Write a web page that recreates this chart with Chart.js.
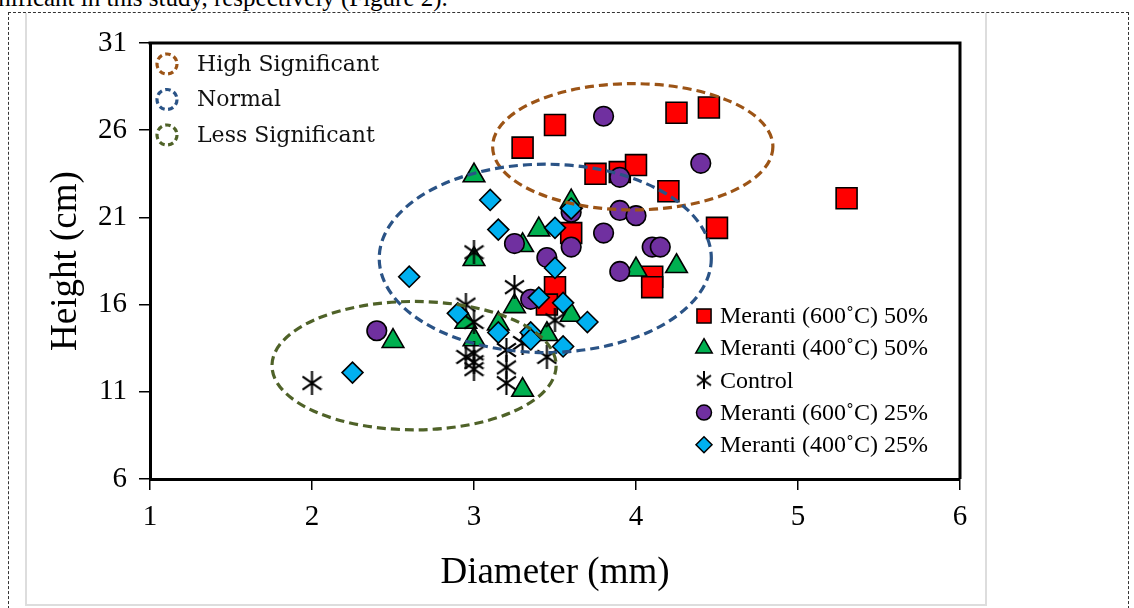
<!DOCTYPE html>
<html>
<head>
<meta charset="utf-8">
<script src="https://cdn.jsdelivr.net/npm/chart.js@4.4.1/dist/chart.umd.min.js"></script>
<style>
html, body { margin: 0; padding: 0; background: #fff; overflow: hidden; }
#page { position: relative; width: 1134px; height: 608px; overflow: hidden; }
.lead { position: absolute; left: -31px; top: -16px; font: 25px "Liberation Serif"; white-space: nowrap; color: #000; }
.dash { position: absolute; left: 8px; top: 12px; width: 1119px; height: 620px; border: 1px dashed #333; }
.frame { position: absolute; left: 25px; top: 13px; width: 958px; height: 591px; border-left: 2px solid #ddd; border-right: 2px solid #ddd; border-bottom: 2px solid #ddd; }
#wrap { position: absolute; left: 0; top: 0; width: 1134px; height: 608px; }
</style>
</head>
<body>
<div id="page">
  <div class="lead">significant in this study, respectively (Figure 2).</div>
  <div class="dash"></div>
  <div class="frame"></div>
  <div id="wrap"><canvas id="chart"></canvas></div>
</div>
<script>
// series names, in legend order
var seriesNames = ['Meranti (600˚C) 50%', 'Meranti (400˚C) 50%', 'Control', 'Meranti (600˚C) 25%', 'Meranti (400˚C) 25%'];

// diameter (mm) / height (cm)
var m600_50_x = [3.3, 3.5, 4.25, 4.45, 3.75, 3.9, 4.0, 4.2, 4.5, 5.3, 3.6, 3.5, 3.45, 4.1, 4.1];
var m600_50_y = [25.0, 26.3, 27.0, 27.3, 23.5, 23.6, 24.0, 22.5, 20.4, 22.1, 20.1, 17.0, 16.0, 17.6, 17.0];

var m400_50_x = [3.0, 3.0, 3.6, 3.4, 3.3, 4.0, 4.25, 2.5, 2.95, 3.0, 3.25, 3.15, 3.45, 3.6, 3.3];
var m400_50_y = [23.4, 18.6, 21.9, 20.3, 19.4, 18.0, 18.2, 13.9, 15.0, 14.0, 15.9, 14.9, 14.3, 15.4, 11.1];

var control_x = [2.0, 3.0, 2.95, 3.0, 2.95, 3.0, 3.0, 3.0, 3.25, 3.2, 3.2, 3.2, 3.3, 3.5, 3.45];
var control_y = [11.5, 19.0, 16.0, 15.0, 13.0, 13.2, 12.7, 12.3, 17.0, 13.4, 12.4, 11.5, 13.8, 15.1, 13.0];

var m600_25_x = [3.8, 4.4, 3.9, 3.9, 4.0, 3.6, 3.6, 3.25, 3.8, 4.1, 4.15, 3.9, 3.45, 3.35, 2.4];
var m600_25_y = [26.8, 24.1, 23.3, 21.4, 21.1, 21.3, 19.3, 19.5, 20.1, 19.3, 19.3, 17.9, 18.7, 16.3, 14.5];

var m400_25_x = [3.1, 3.15, 3.5, 3.6, 3.5, 2.6, 2.9, 3.15, 3.35, 3.35, 3.4, 3.55, 3.7, 3.55, 2.25];
var m400_25_y = [22.0, 20.3, 20.4, 21.5, 18.1, 17.6, 15.5, 14.4, 14.4, 14.0, 16.4, 16.1, 15.0, 13.6, 12.1];

// grouping ellipses, in data units
var zoneNames = ['High Significant', 'Normal', 'Less Significant'];
var zoneCx = [3.98, 3.44, 2.63];
var zoneCy = [25.05, 18.65, 12.5];
var zoneRx = [0.865, 1.025, 0.877];
var zoneRy = [3.62, 5.4, 3.68];
var zoneColors = ['#9c5416', '#2a5386', '#4f6228'];

var xTicks = [1, 2, 3, 4, 5, 6];
var yTicks = [6, 11, 16, 21, 26, 31];

function pairs(xs, ys) {
    var out = [];
    for (var i = 0; i < xs.length; i++) {
        out.push({ x: xs[i], y: ys[i] });
    }
    return out;
}

function makeAsterisk(w, h, lw) {
    var c = document.createElement('canvas');
    c.width = w;
    c.height = h;
    var g = c.getContext('2d');
    g.strokeStyle = '#000';
    g.lineWidth = lw;
    g.lineCap = 'butt';
    g.beginPath();
    g.moveTo(w / 2, 0);
    g.lineTo(w / 2, h);
    g.moveTo(1, h * 0.22);
    g.lineTo(w - 1, h * 0.78);
    g.moveTo(w - 1, h * 0.22);
    g.lineTo(1, h * 0.78);
    g.stroke();
    return c;
}

var asterisk = makeAsterisk(21, 24, 2.1);
var asteriskSmall = makeAsterisk(16, 18, 2);

var styles = [
    { pointStyle: 'rect', radius: 14.8, color: '#ff0000', legendRadius: 10 },
    { pointStyle: 'triangle', radius: 12.5, color: '#00b050', legendRadius: 9.5 },
    { pointStyle: asterisk, radius: 10, color: '#000', legendStyle: asteriskSmall, legendRadius: 7 },
    { pointStyle: 'circle', radius: 9.8, color: '#7030a0', legendRadius: 7.5 },
    { pointStyle: 'rectRot', radius: 10.5, color: '#00b0f0', legendRadius: 8 }
];

var seriesData = [
    pairs(m600_50_x, m600_50_y),
    pairs(m400_50_x, m400_50_y),
    pairs(control_x, control_y),
    pairs(m600_25_x, m600_25_y),
    pairs(m400_25_x, m400_25_y)
];

var datasets = seriesNames.map(function(name, i) {
    return {
        label: name,
        data: seriesData[i],
        pointStyle: styles[i].pointStyle,
        pointRadius: styles[i].radius,
        pointHoverRadius: styles[i].radius,
        backgroundColor: styles[i].color,
        borderColor: '#000',
        borderWidth: 1.6,
        order: seriesNames.length - i  // later series on top, like the original
    };
});

var framePlugin = {
    id: 'frame',
    afterDatasetsDraw: function(chart) {
        var ctx = chart.ctx;
        var xs = chart.scales.x, ys = chart.scales.y;
        ctx.save();
        // grouping ellipses
        ctx.lineWidth = 3.2;
        ctx.setLineDash([9, 5]);
        for (var i = 0; i < zoneNames.length; i++) {
            var cx = xs.getPixelForValue(zoneCx[i]);
            var cy = ys.getPixelForValue(zoneCy[i]);
            var rx = xs.getPixelForValue(zoneCx[i] + zoneRx[i]) - cx;
            var ry = cy - ys.getPixelForValue(zoneCy[i] + zoneRy[i]);
            ctx.strokeStyle = zoneColors[i];
            ctx.beginPath();
            ctx.ellipse(cx, cy, rx, ry, 0, 0, Math.PI * 2);
            ctx.stroke();
        }
        ctx.restore();
    },
    afterDraw: function(chart) {
        var ctx = chart.ctx;
        var a = chart.chartArea;
        ctx.save();
        // top and right border of the plot box
        ctx.strokeStyle = '#000';
        ctx.lineWidth = 3;
        ctx.beginPath();
        ctx.moveTo(a.left - 1.5, a.top);
        ctx.lineTo(a.right, a.top);
        ctx.lineTo(a.right, a.bottom);
        ctx.stroke();

        // legend of the zones, top left
        ctx.font = '22px "DejaVu Serif"';
        ctx.textBaseline = 'middle';
        ctx.fillStyle = '#111';
        for (var i = 0; i < zoneNames.length; i++) {
            var y = a.top + 21 + i * 35.5;
            ctx.strokeStyle = zoneColors[i];
            ctx.lineWidth = 3.2;
            ctx.setLineDash([5.5, 3.5]);
            ctx.beginPath();
            ctx.arc(a.left + 17, y, 10, 0, Math.PI * 2);
            ctx.stroke();
            ctx.setLineDash([]);
            ctx.fillText(zoneNames[i], a.left + 47, y + 1);
        }

        // legend of the series, lower right
        ctx.font = '24px "Liberation Serif"';
        for (var j = 0; j < seriesNames.length; j++) {
            var ly = a.top + 273 + j * 32.2;
            var lx = a.left + 554;
            ctx.fillStyle = styles[j].color;
            ctx.strokeStyle = '#000';
            ctx.lineWidth = 1.5;
            Chart.helpers.drawPoint(ctx, {
                pointStyle: styles[j].legendStyle || styles[j].pointStyle,
                radius: styles[j].legendRadius,
                borderWidth: 1.5,
                rotation: 0
            }, lx, ly);
            ctx.fillStyle = '#000';
            ctx.fillText(seriesNames[j], lx + 16, ly + 1);
        }
        ctx.restore();
    }
};

var tickFont = { family: 'Liberation Serif', size: 29 };
var titleFont = { family: 'Liberation Serif', size: 37 };

new Chart(document.getElementById('chart'), {
    type: 'scatter',
    data: { datasets: datasets },
    options: {
        responsive: true,
        maintainAspectRatio: false,
        animation: false,
        events: [],
        layout: { padding: { left: 0, top: 43, right: 174, bottom: 0 } },
        plugins: {
            legend: { display: false },
            tooltip: { enabled: false }
        },
        scales: {
            x: {
                type: 'linear',
                min: xTicks[0],
                max: xTicks[xTicks.length - 1],
                afterBuildTicks: function(s) { s.ticks = xTicks.map(function(v) { return { value: v }; }); },
                afterFit: function(s) { s.height = 129; },
                ticks: { font: tickFont, color: '#000', padding: 10 },
                grid: { drawOnChartArea: false, drawTicks: true, tickLength: 11, color: '#000', lineWidth: 1.5 },
                border: { display: true, color: '#000', width: 3 },
                title: { display: true, text: 'Diameter (mm)', font: titleFont, color: '#000', padding: { top: 0, bottom: 13 } }
            },
            y: {
                type: 'linear',
                min: yTicks[0],
                max: yTicks[yTicks.length - 1],
                afterBuildTicks: function(s) { s.ticks = yTicks.map(function(v) { return { value: v }; }); },
                afterFit: function(s) { s.width = 150; },
                ticks: { font: tickFont, color: '#000', padding: 12 },
                grid: { drawOnChartArea: false, drawTicks: true, tickLength: 11, color: '#000', lineWidth: 1.5 },
                border: { display: true, color: '#000', width: 3 },
                title: { display: true, text: 'Height (cm)', font: titleFont, color: '#000', padding: { top: 44, bottom: 0 } }
            }
        }
    },
    plugins: [framePlugin]
});
</script>
</body>
</html>
